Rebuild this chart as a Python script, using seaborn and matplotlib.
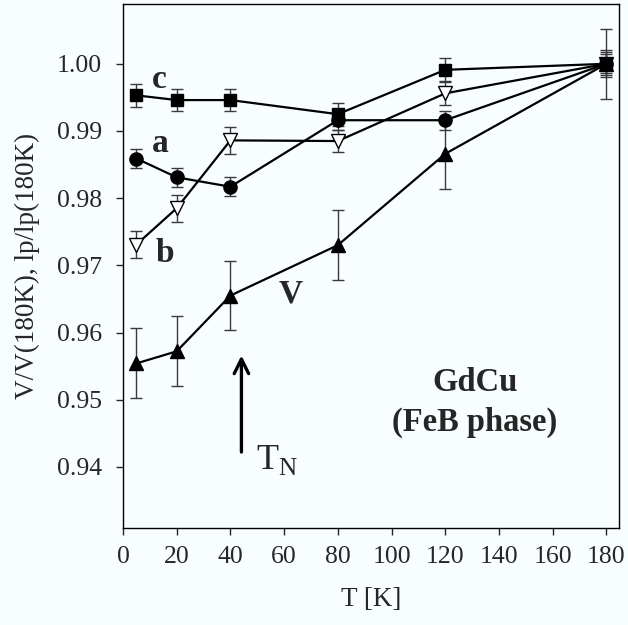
import numpy as np
import pandas as pd
import matplotlib
matplotlib.use("Agg")
import matplotlib.pyplot as plt
import seaborn as sns

# Temperatures (K) and normalised lattice parameters / volume of GdCu
T = [5, 20, 40, 80, 120, 180]
c_vals = [0.9953, 0.9946, 0.9946, 0.9925, 0.9991, 1.0000]
c_err = [0.0017, 0.0017, 0.0017, 0.0017, 0.0017, 0.0017]
a_vals = [0.9859, 0.9831, 0.9817, 0.9916, 0.9916, 1.0000]
a_err = [0.0014, 0.0014, 0.0014, 0.0014, 0.0014, 0.0014]
b_vals = [0.9731, 0.9785, 0.9886, 0.9885, 0.9956, 1.0000]
b_err = [0.0020, 0.0020, 0.0020, 0.0017, 0.0017, 0.0020]
V_vals = [0.9554, 0.9572, 0.9655, 0.9730, 0.9866, 1.0000]
V_err = [0.0052, 0.0052, 0.0052, 0.0052, 0.0053, 0.0052]

x_ticks = [0, 20, 40, 60, 80, 100, 120, 140, 160, 180]
y_ticks = [0.94, 0.95, 0.96, 0.97, 0.98, 0.99, 1.00]

sns.set_style("ticks")
plt.rcParams["font.family"] = ["Liberation Serif", "DejaVu Serif"]
plt.rcParams["mathtext.fontset"] = "custom"
plt.rcParams["mathtext.rm"] = "Liberation Serif"

bg = "#f8fdff"
fig = plt.figure(figsize=(6.28, 6.25), dpi=100, facecolor=bg)
ax = fig.add_axes([123 / 628, 1 - 528 / 625, (619 - 123) / 628, (528 - 4) / 625])
ax.set_facecolor(bg)

series = [
    ("V", V_vals, V_err, "^", "black", 10),
    ("b", b_vals, b_err, "v", "white", 10),
    ("c", c_vals, c_err, "s", "black", 9),
    ("a", a_vals, a_err, "o", "black", 9.5),
]

for name, vals, errs, mk, fc, ms in series:
    df = pd.DataFrame({"T": T, "val": vals})
    ax.errorbar(T, vals, yerr=errs, fmt="none", ecolor="#3a3a3a",
                elinewidth=1.0, capsize=4, capthick=1.0, zorder=2)
    sns.lineplot(data=df, x="T", y="val", ax=ax, color="black", lw=1.6,
                 marker=mk, markersize=ms, markerfacecolor=fc,
                 markeredgecolor="black", markeredgewidth=1.0, zorder=3,
                 legend=False)

ax.set_xlim(0, 184.7)
ax.set_ylim(0.9309, 1.0089)
ax.set_xticks(x_ticks)
ax.set_yticks(y_ticks)
ax.set_yticklabels([f"{v:.2f}" for v in y_ticks])
ax.tick_params(axis="both", labelsize=18.5, direction="out", length=5, width=1)
ax.tick_params(axis="y", pad=10)
ax.tick_params(axis="x", pad=8)
for s in ax.spines.values():
    s.set_linewidth(1.0)
    s.set_color("black")

ax.set_xlabel("T [K]", fontsize=19.5, labelpad=14)
ax.set_ylabel("V/V(180K), lp/lp(180K)", fontsize=19.5, labelpad=12)

# Series labels
ax.text(13.4, 0.9976, "c", fontsize=24, fontweight="bold", ha="center", va="center")
ax.text(13.8, 0.9881, "a", fontsize=24, fontweight="bold", ha="center", va="center")
ax.text(15.6, 0.9717, "b", fontsize=24, fontweight="bold", ha="center", va="center")
ax.text(62.6, 0.9658, "V", fontsize=24, fontweight="bold", ha="center", va="center")

ax.text(131, 0.9525, "GdCu", fontsize=23.5, fontweight="bold", ha="center", va="center")
ax.text(131, 0.9466, "(FeB phase)", fontsize=23.5, fontweight="bold", ha="center", va="center")

# Néel temperature marker
ax.annotate("", xy=(44.1, 0.9570), xytext=(44.1, 0.9418),
            arrowprops=dict(arrowstyle="->", lw=2.4, color="black",
                            mutation_scale=26))
ax.text(49.5, 0.9410, r"T$_{\mathregular{N}}$", fontsize=26, ha="left", va="center")

fig.savefig("out.png", dpi=100, facecolor=bg)
